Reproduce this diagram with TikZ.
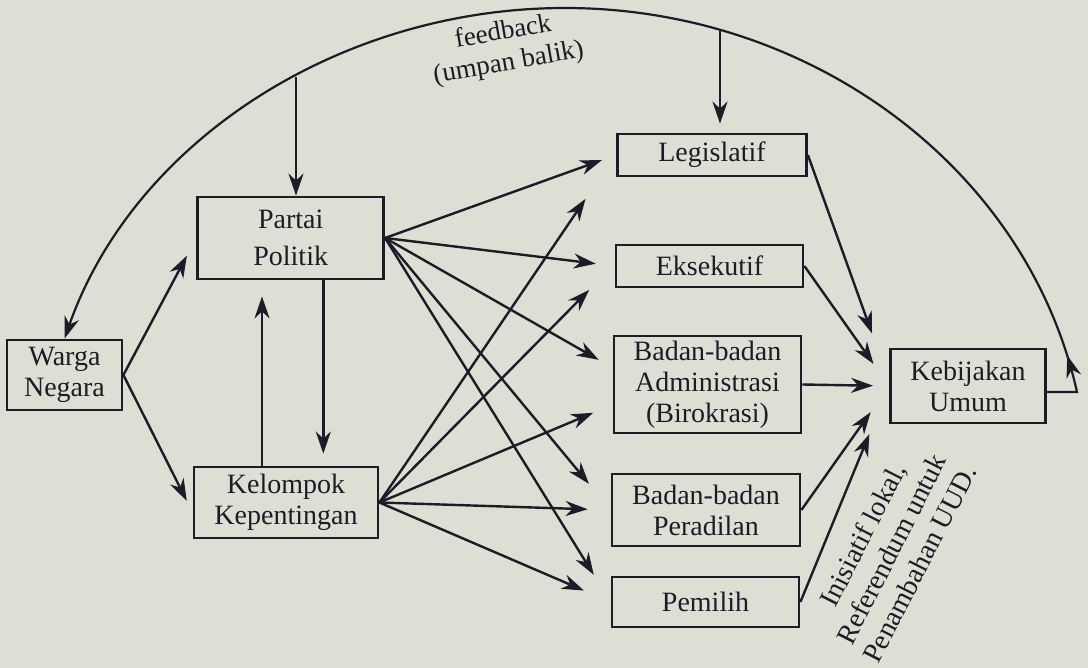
\documentclass[tikz,border=0pt]{standalone}
\usepackage{fontspec}
\setmainfont{Liberation Serif}
\usetikzlibrary{arrows.meta, decorations.markings}
\definecolor{paper}{RGB}{221,223,212}
\definecolor{ink}{RGB}{30,26,40}

\begin{document}
\begin{tikzpicture}[x=1pt, y=-1pt, >={Stealth[length=22pt, width=15pt, inset=7pt]},
        every node/.style={font=\fontsize{28}{31}\selectfont, text=ink, align=center},
        box/.style={draw=ink, line width=2.8pt, inner sep=0pt},
        arr/.style={->, draw=ink, line width=2.4pt},
        fb/.style={->, draw=ink, line width=2.2pt, postaction={decorate},
            decoration={markings, mark=at position 0.05 with {\arrow{>}}}}]
            \fill[paper] (0,0) rectangle (1088,668);
            \useasboundingbox (0,0) rectangle (1088,668);
            \node[box, minimum width=115pt, minimum height=70pt] (wn) at (64.5,375) {Warga\\Negara};
            \node[box, minimum width=186pt, minimum height=82pt, font=\fontsize{28}{37}\selectfont] (pp) at (290.7,238) {Partai\\Politik};
            \node[box, minimum width=184pt, minimum height=71pt] (kk) at (286,502.5) {Kelompok\\Kepentingan};
            \node[box, minimum width=189pt, minimum height=42pt] (leg) at (712,155) {Legislatif};
            \node[box, minimum width=187pt, minimum height=42pt] (eks) at (709.5,266) {Eksekutif};
            \node[box, minimum width=187pt, minimum height=97pt] (adm) at (707.5,384.5) {Badan-badan\\Administrasi\\(Birokrasi)};
            \node[box, minimum width=188pt, minimum height=72pt] (per) at (706,510) {Badan-badan\\Peradilan};
            \node[box, minimum width=187pt, minimum height=50pt] (pem) at (705.5,602) {Pemilih};
            \node[box, minimum width=155pt, minimum height=74pt] (kb) at (968,386) {Kebijakan\\Umum};
            \node[rotate=10, font=\fontsize{27}{31}\selectfont] (fbtext) at (506,48) {feedback\\(umpan balik)};
            \node[rotate=63, font=\fontsize{28}{32}\selectfont] (ini) at (891,549) {Inisiatif lokal,\\Referendum untuk\\Penambahan UUD.};
            \coordinate (fbR) at (1077,392);
            \coordinate (fbT) at (565,8);
            \coordinate (fbP) at (296,77.5);
            \coordinate (fbL) at (720,30);
            \coordinate (kkup) at ([xshift=-24pt]kk.north);
            \coordinate (ppdown) at ([xshift=32.6pt]pp.south);
            \draw[fb] ([yshift=-6pt]kb.east) -- (fbR) .. controls (1027,168) and (811,8) .. (fbT) .. controls (340,8) and (134,141) .. (wn.north);
            \draw[arr] (fbP) -- (fbP |- pp.north);
            \draw[arr, shorten >=9pt] (fbL) -- (fbL |- leg.north);
            \draw[arr, shorten >=16pt] (kkup) -- (kkup |- pp.south);
            \draw[arr, shorten >=12pt] (ppdown) -- (ppdown |- kk.north);
            \draw[arr, shorten >=20pt] (wn.east) -- (pp.west);
            \draw[arr, shorten >=13pt] (wn.east) -- ([yshift=-10pt]kk.west);
            \draw[arr, shorten >=15pt] (pp.east) -- (leg.west);
            \draw[arr, shorten >=19pt] (pp.east) -- (eks.west);
            \draw[arr, shorten >=16pt] (pp.east) -- (adm.170);
            \draw[arr, shorten >=34pt] (pp.east) -- (per.west);
            \draw[arr, shorten >=32pt] (pp.east) -- (pem.west);
            \draw[arr, shorten >=26pt] (kk.east) -- ([xshift=-16pt]leg.south west);
            \draw[arr, shorten >=2pt] (kk.east) -- ([xshift=-24pt]eks.south west);
            \draw[arr, shorten >=21pt] (kk.east) -- (adm.192);
            \draw[arr, shorten >=23pt] (kk.east) -- (per.west);
            \draw[arr, shorten >=29pt] (kk.east) -- (pem.west);
            \draw[arr, shorten >=15pt] (leg.east) -- ([xshift=-12pt]kb.north west);
            \draw[arr, shorten >=27pt] (eks.east) -- (kb.west);
            \draw[arr, shorten >=16pt] (adm.east) -- (kb.west);
            \draw[arr, shorten >=32pt] (per.east) -- (kb.west);
            \draw[arr, shorten >=52pt] (pem.east) -- (kb.west);
        \end{tikzpicture}
\end{document}
